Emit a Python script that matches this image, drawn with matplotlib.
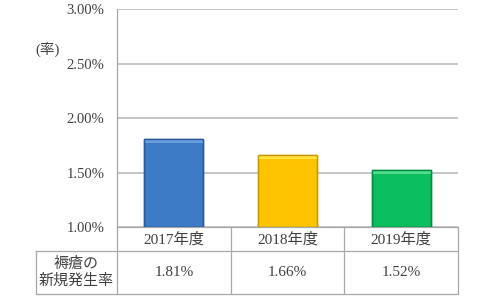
import numpy as np
import matplotlib
matplotlib.use("Agg")
import matplotlib.pyplot as plt
from matplotlib.lines import Line2D

years = ["2017年度", "2018年度", "2019年度"]
rates = [1.81, 1.66, 1.52]
rate_labels = ["1.81%", "1.66%", "1.52%"]
row_label = "褥瘡の\n新規発生率"
unit_label = "(率)"
# face, top bevel, edge
bar_colors = [("#3d7bc6", "#6a9fe0", "#2b5a98"),
              ("#ffc400", "#ffe040", "#c99a00"),
              ("#0bbf5e", "#4fdc8c", "#008c40")]

FONT = ["Liberation Serif", "Noto Sans CJK JP"]
GRID = "#bcbcbc"
TBL = "#a8a8a8"
TXT = "#404040"

fig = plt.figure(figsize=(5.0, 3.05), dpi=100)
ax = fig.add_axes([0.234, 0.2557, 0.682, 0.7148])

x = np.arange(len(years))
heights = [r - 1.0 for r in rates]
bars = ax.bar(x, heights, bottom=1.0, width=0.52, zorder=3)
for b, (face, light, edge) in zip(bars, bar_colors):
    b.set_facecolor(face)
    b.set_edgecolor(edge)
    b.set_linewidth(1.0)
    # thin lighter bevel along the top of each bar
    top = b.get_y() + b.get_height()
    ax.bar(b.get_x() + b.get_width() / 2, 0.035, bottom=top - 0.035,
           width=b.get_width(), color=light, linewidth=0, zorder=3.5)
    ax.bar(b.get_x() + b.get_width() / 2, b.get_height(), bottom=b.get_y(),
           width=b.get_width(), facecolor="none", edgecolor=edge,
           linewidth=1.0, zorder=4)

ax.set_xlim(-0.5, 2.5)
ax.set_ylim(1.0, 3.0)
ticks = [1.0, 1.5, 2.0, 2.5, 3.0]
ax.set_yticks(ticks)
ax.set_yticklabels(["%.2f%%" % v for v in ticks],
                   family=FONT, fontsize=10.5, color=TXT)
ax.tick_params(axis="y", length=0, pad=9)
ax.set_xticks([])
ax.yaxis.grid(True, color=GRID, linewidth=1.2, zorder=0)
ax.set_axisbelow(True)
for s in ["top", "right", "bottom"]:
    ax.spines[s].set_visible(False)
ax.spines["left"].set_color(TBL)
ax.spines["left"].set_linewidth(0.9)

ax.text(-0.205, 0.815, unit_label, transform=ax.transAxes, ha="center",
        va="center", family=FONT, fontsize=10.5, color=TXT)

# table under the plot
r0, r1, r2 = 0.0, -0.110, -0.307
xl = -0.2375
tbl_lines = [
    ([0, 1], [r0, r0]),
    ([xl, 1], [r1, r1]),
    ([xl, 1], [r2, r2]),
    ([xl, xl], [r1, r2]),
    ([0, 0], [r0, r2]),
]
for i in range(1, 4):
    tbl_lines.append(([i / 3, i / 3], [r0, r2]))
for xs, ys in tbl_lines:
    ax.add_line(Line2D(xs, ys, transform=ax.transAxes, color=TBL,
                       linewidth=0.9, clip_on=False))

for i, (yr, lab) in enumerate(zip(years, rate_labels)):
    cx = (i + 0.5) / 3
    ax.text(cx, (r0 + r1) / 2, yr, transform=ax.transAxes, ha="center",
            va="center", family=FONT, fontsize=11, color=TXT)
    ax.text(cx, (r1 + r2) / 2, lab, transform=ax.transAxes, ha="center",
            va="center", family=FONT, fontsize=11, color=TXT)

ax.text(xl / 2, (r1 + r2) / 2, row_label, transform=ax.transAxes, ha="center",
        va="center", family=FONT, fontsize=10.8, color=TXT, linespacing=1.2)

fig.savefig("out.png", dpi=100, facecolor="white")
